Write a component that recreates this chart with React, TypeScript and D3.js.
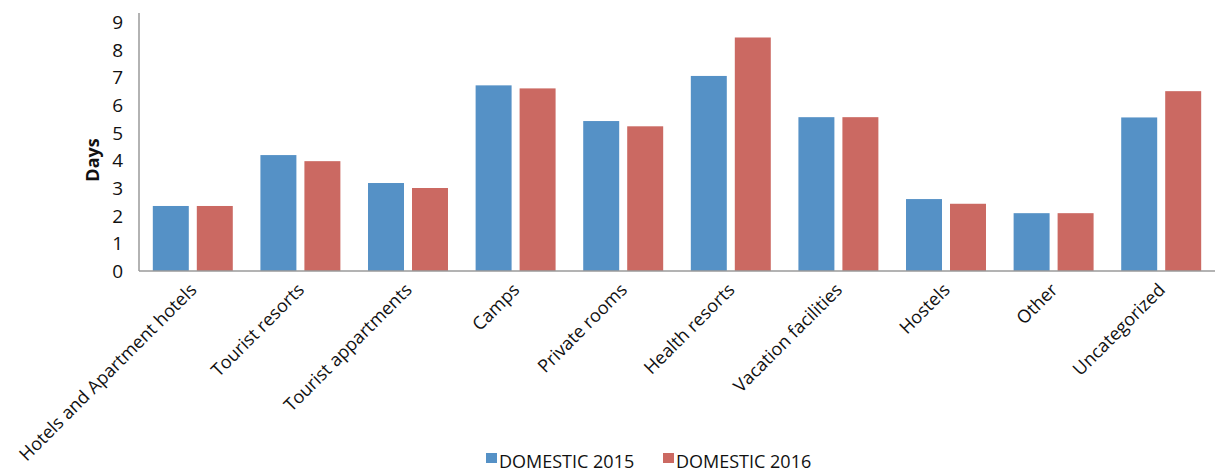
import React, { useEffect, useRef } from "react";
import * as d3 from "d3";

const categories = [
  "Hotels and Apartment hotels",
  "Tourist resorts",
  "Tourist appartments",
  "Camps",
  "Private rooms",
  "Health resorts",
  "Vacation facilities",
  "Hostels",
  "Other",
  "Uncategorized",
];
const domestic2015 = [2.35, 4.19, 3.18, 6.71, 5.42, 7.05, 5.56, 2.6, 2.09, 5.55];
const domestic2016 = [2.35, 3.97, 3.0, 6.6, 5.23, 8.44, 5.56, 2.43, 2.09, 6.5];
const seriesNames = ["DOMESTIC 2015", "DOMESTIC 2016"];
const yTicks = [0, 1, 2, 3, 4, 5, 6, 7, 8, 9];

const App = () => {
  const svgRef = useRef<SVGSVGElement | null>(null);

  useEffect(() => {
    const svg = d3.select(svgRef.current);
    svg.selectAll("*").remove();

    const width = 1217;
    const height = 473;
    const left = 139;
    const right = 1215;
    const baseY = 271;
    const font = "'Open Sans', 'Noto Sans', sans-serif";
    const colors = ["#5591c6", "#cb6962"];
    const axisColor = "#9a9a9a";
    const fs = 18;

    svg.attr("width", width).attr("height", height);

    const x = d3.scaleBand().domain(categories).range([left, right]);
    const y = d3.scaleLinear().domain([0, 9]).range([baseY, 22]);
    const inner = d3
      .scaleBand()
      .domain(seriesNames)
      .range([0, x.bandwidth()])
      .paddingInner(0.182)
      .paddingOuter(0.314);

    // bars
    [domestic2015, domestic2016].forEach((vals, si) => {
      svg
        .append("g")
        .selectAll("rect")
        .data(vals)
        .join("rect")
        .attr("x", (d, i) => x(categories[i])! + inner(seriesNames[si])!)
        .attr("y", (d) => y(d))
        .attr("width", inner.bandwidth())
        .attr("height", (d) => baseY - y(d))
        .attr("fill", colors[si]);
    });

    // axes lines
    svg
      .append("line")
      .attr("x1", left)
      .attr("x2", left)
      .attr("y1", 13)
      .attr("y2", baseY)
      .attr("stroke", axisColor)
      .attr("stroke-width", 1.5);
    svg
      .append("line")
      .attr("x1", left)
      .attr("x2", right)
      .attr("y1", baseY)
      .attr("y2", baseY)
      .attr("stroke", axisColor)
      .attr("stroke-width", 1.5);

    // y tick labels
    svg
      .append("g")
      .selectAll("text")
      .data(yTicks)
      .join("text")
      .attr("x", 123)
      .attr("y", (d) => y(d))
      .attr("dy", "0.36em")
      .attr("text-anchor", "end")
      .attr("font-family", font)
      .attr("font-size", 19)
      .attr("fill", "#111")
      .text((d) => d);

    // y title
    svg
      .append("text")
      .attr("transform", `translate(99, 160) rotate(-90)`)
      .attr("text-anchor", "middle")
      .attr("font-family", font)
      .attr("font-weight", "bold")
      .attr("font-size", fs)
      .attr("fill", "#111")
      .text("Days");

    // x labels
    svg
      .append("g")
      .selectAll("text")
      .data(categories)
      .join("text")
      .attr(
        "transform",
        (d) => `translate(${x(d)! + x.bandwidth() / 2 + 5}, 291) rotate(-45)`
      )
      .attr("text-anchor", "end")
      .attr("font-family", font)
      .attr("font-size", fs)
      .attr("fill", "#111")
      .text((d) => d);

    // legend
    const legendX = [486, 663];
    seriesNames.forEach((name, i) => {
      svg
        .append("rect")
        .attr("x", legendX[i])
        .attr("y", 453)
        .attr("width", 11)
        .attr("height", 10)
        .attr("fill", colors[i]);
      svg
        .append("text")
        .attr("x", legendX[i] + 13)
        .attr("y", 468)
        .attr("font-family", font)
        .attr("font-size", fs)
        .attr("fill", "#111")
        .text(name);
    });
  }, []);

  return (
    <svg
      ref={svgRef}
      style={{ position: "absolute", left: 0, top: 0, display: "block" }}
    ></svg>
  );
};

export default App;
